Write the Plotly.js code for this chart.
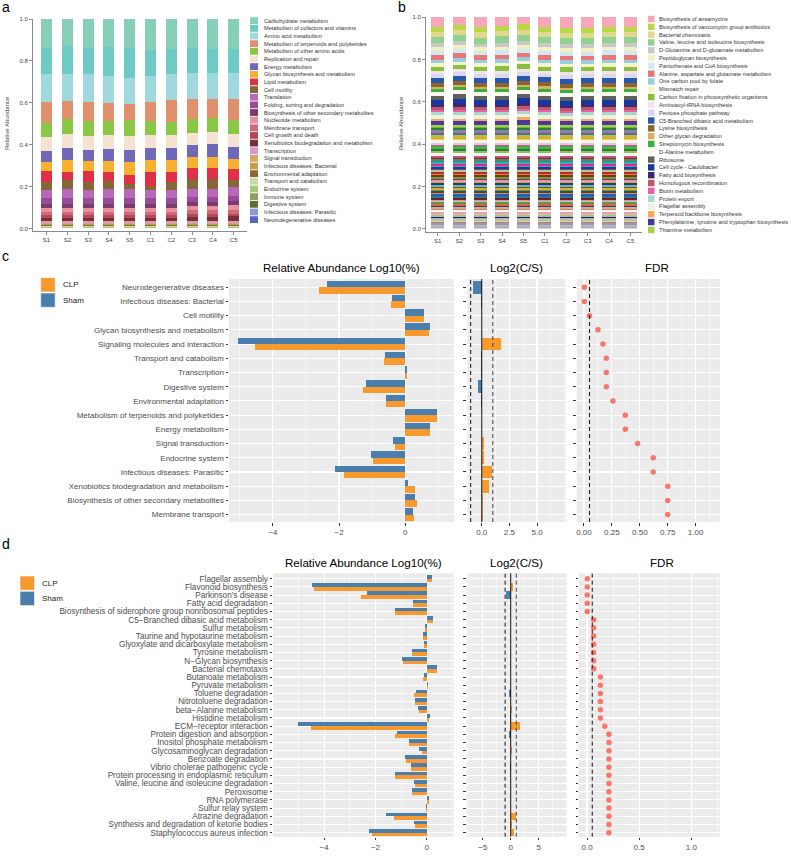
<!DOCTYPE html>
<html><head><meta charset="utf-8">
<script src="https://cdn.plot.ly/plotly-3.0.1.min.js"></script>
<style>html,body{margin:0;padding:0;background:#fff;}#chart{width:791px;height:857px;}</style>
</head><body><div id="chart"></div>
<script>
// ---------------- DATA ----------------
const samples = ['S1','S2','S3','S4','S5','C1','C2','C3','C4','C5'];

// Panel a: KEGG level 2 (top of stack first)
const aCategories = ['Carbohydrate metabolism','Metabolism of cofactors and vitamins','Amino acid metabolism','Metabolism of terpenoids and polyketides','Metabolism of other amino acids','Replication and repair','Energy metabolism','Glycan biosynthesis and metabolism','Lipid metabolism','Cell motility','Translation','Folding, sorting and degradation','Biosynthesis of other secondary metabolites','Nucleotide metabolism','Membrane transport','Cell growth and death','Xenobiotics biodegradation and metabolism','Transcription','Signal transduction','Infectious diseases: Bacterial','Environmental adaptation','Transport and catabolism','Endocrine system','Immune system','Digestive system','Infectious diseases: Parasitic','Neurodegenerative diseases'];
const aColors = ['#86d0b8','#6ecac4','#a0d8e0','#e0906c','#88c844','#f5e2d0','#7068b8','#f8b030','#e03048','#846838','#b868b8','#984c98','#783c70','#e8909c','#d06878','#b84858','#783038','#d898cc','#d8a860','#c0a048','#886838','#c8dca8','#a8c880','#88a060','#587038','#9098d8','#5868c0'];
const aS1 = [0.139,0.126,0.130,0.101,0.068,0.067,0.050,0.046,0.050,0.039,0.040,0.027,0.020,0.018,0.016,0.013,0.013,0.011,0.007,0.005,0.004,0.004,0.003,0.002,0.0008,0.0002,0.0001];
const aS2 = [0.130,0.135,0.126,0.086,0.073,0.065,0.059,0.055,0.040,0.044,0.043,0.027,0.020,0.018,0.016,0.013,0.013,0.011,0.007,0.005,0.004,0.004,0.003,0.002,0.0008,0.0002,0.0001];
const aS3 = [0.139,0.126,0.130,0.093,0.072,0.064,0.056,0.047,0.050,0.039,0.040,0.027,0.020,0.018,0.016,0.013,0.013,0.011,0.007,0.005,0.004,0.004,0.003,0.002,0.0008,0.0002,0.0001];
const aS4 = [0.135,0.139,0.125,0.088,0.066,0.067,0.057,0.052,0.044,0.040,0.043,0.027,0.020,0.018,0.016,0.013,0.013,0.011,0.007,0.005,0.004,0.004,0.003,0.002,0.0008,0.0002,0.0001];
const aS5 = [0.139,0.141,0.124,0.079,0.077,0.066,0.055,0.064,0.044,0.021,0.046,0.027,0.020,0.018,0.016,0.013,0.013,0.011,0.007,0.005,0.004,0.004,0.003,0.002,0.0008,0.0002,0.0001];
const aC1 = [0.150,0.124,0.121,0.092,0.066,0.062,0.057,0.060,0.065,0.022,0.037,0.027,0.020,0.018,0.016,0.013,0.013,0.011,0.007,0.005,0.004,0.004,0.003,0.002,0.0008,0.0002,0.0001];
const aC2 = [0.144,0.121,0.122,0.103,0.063,0.065,0.057,0.056,0.046,0.041,0.038,0.027,0.020,0.018,0.016,0.013,0.013,0.011,0.007,0.005,0.004,0.004,0.003,0.002,0.0008,0.0002,0.0001];
const aC3 = [0.139,0.119,0.126,0.095,0.065,0.060,0.057,0.049,0.055,0.048,0.037,0.024,0.019,0.020,0.019,0.013,0.018,0.011,0.007,0.005,0.004,0.004,0.003,0.002,0.0008,0.0002,0.0001];
const aC4 = [0.145,0.113,0.124,0.089,0.068,0.058,0.061,0.054,0.053,0.045,0.038,0.024,0.019,0.021,0.019,0.013,0.019,0.011,0.007,0.005,0.004,0.004,0.003,0.002,0.0008,0.0002,0.0001];
const aC5 = [0.144,0.114,0.124,0.100,0.068,0.060,0.057,0.051,0.051,0.034,0.042,0.025,0.018,0.022,0.020,0.013,0.020,0.011,0.007,0.005,0.004,0.004,0.003,0.002,0.0008,0.0002,0.0001];

// Panel b: KEGG level 3, legend categories (top of stack first)
const bCategories = ['Biosynthesis of ansamycins','Biosynthesis of vancomycin group antibiotics','Bacterial chemotaxis','Valine, leucine and isoleucine biosynthesis','D-Glutamine and D-glutamate metabolism','Peptidoglycan biosynthesis','Pantothenate and CoA biosynthesis','Alanine, aspartate and glutamate metabolism','One carbon pool by folate','Mismatch repair','Carbon fixation in photosynthetic organisms','Aminoacyl-tRNA biosynthesis','Pentose phosphate pathway','C5-Branched dibasic acid metabolism','Lysine biosynthesis','Other glycan degradation','Streptomycin biosynthesis','D-Alanine metabolism','Ribosome','Cell cycle - Caulobacter','Fatty acid biosynthesis','Homologous recombination','Biotin metabolism','Protein export','Flagellar assembly','Terpenoid backbone biosynthesis','Phenylalanine, tyrosine and tryptophan biosynthesis','Thiamine metabolism'];
const bColors = ['#f7a8b8','#b8d848','#e0d890','#90d090','#c8c8c8','#f0f0c0','#d0e8f0','#e87878','#98cce0','#f8f4c8','#88c040','#f8e0e8','#d8d8f0','#2858b0','#8b6430','#d8b060','#38b040','#f8f8e8','#606060','#1838a0','#402870','#c05868','#e860a8','#a8d8c8','#e8f4e0','#f8a860','#4838a0','#a8d040'];
const bS1 = [0.047,0.024,0.025,0.027,0.020,0.016,0.022,0.020,0.018,0.015,0.021,0.014,0.019,0.025,0.016,0.011,0.014,0.017,0.019,0.024,0.012,0.013,0.011,0.012,0.018,0.012,0.016,0.009];
const bS2 = [0.036,0.024,0.025,0.029,0.020,0.016,0.022,0.020,0.018,0.015,0.021,0.014,0.019,0.025,0.016,0.011,0.014,0.017,0.023,0.027,0.012,0.013,0.011,0.012,0.020,0.012,0.016,0.009];
const bS3 = [0.047,0.024,0.027,0.027,0.018,0.016,0.022,0.020,0.018,0.015,0.021,0.014,0.019,0.025,0.016,0.011,0.014,0.017,0.019,0.024,0.012,0.013,0.011,0.012,0.018,0.012,0.016,0.009];
const bS4 = [0.042,0.024,0.025,0.030,0.020,0.016,0.022,0.020,0.018,0.015,0.021,0.014,0.019,0.027,0.016,0.011,0.014,0.017,0.019,0.024,0.012,0.013,0.011,0.012,0.018,0.012,0.016,0.009];
const bS5 = [0.033,0.028,0.025,0.027,0.020,0.016,0.022,0.020,0.018,0.015,0.021,0.014,0.019,0.025,0.016,0.011,0.014,0.017,0.019,0.028,0.012,0.013,0.011,0.012,0.018,0.014,0.020,0.009];
const bC1 = [0.047,0.024,0.025,0.027,0.020,0.016,0.022,0.020,0.018,0.015,0.021,0.014,0.014,0.025,0.016,0.014,0.016,0.017,0.019,0.024,0.012,0.013,0.011,0.012,0.018,0.012,0.016,0.009];
const bC2 = [0.051,0.024,0.025,0.027,0.020,0.016,0.022,0.020,0.018,0.015,0.021,0.014,0.019,0.025,0.016,0.011,0.014,0.017,0.019,0.024,0.012,0.013,0.011,0.012,0.014,0.012,0.016,0.009];
const bC3 = [0.051,0.024,0.025,0.027,0.020,0.016,0.022,0.020,0.018,0.011,0.021,0.014,0.019,0.025,0.016,0.011,0.014,0.017,0.019,0.024,0.012,0.013,0.011,0.012,0.018,0.012,0.016,0.009];
const bC4 = [0.045,0.024,0.025,0.027,0.020,0.016,0.022,0.022,0.018,0.015,0.021,0.014,0.019,0.025,0.016,0.011,0.014,0.017,0.019,0.024,0.012,0.013,0.011,0.012,0.018,0.012,0.016,0.009];
const bC5 = [0.045,0.024,0.025,0.029,0.020,0.016,0.022,0.020,0.018,0.015,0.021,0.014,0.019,0.025,0.016,0.011,0.014,0.017,0.019,0.024,0.012,0.013,0.011,0.012,0.018,0.012,0.016,0.009];
// Panel b: remaining (unlabelled) pathways, same share in every sample (top of stack first)
const bOtherValues = [0.008,0.009,0.012,0.010,0.008,0.010,0.008,0.010,0.010,0.008,0.012,0.010,0.008,0.015,
  0.008,0.006,0.009,0.007,0.008,0.010,0.006,0.008,0.007,0.009,0.006,0.008,0.007,0.010,0.006,0.007,0.008,0.009,0.006,0.008,0.007,0.007,0.009,0.006,0.008,0.007,0.009,0.006,0.008,0.007,0.008,0.006,0.009,0.007,
  0.010,
  0.007,0.006,0.008,0.005,0.007,0.006,0.007,0.006,0.008,0.006,0.007,0.005];
const bOtherColors = ['#66bb44','#2f7f3a','#8a7fa8','#6d6190','#9ccc4c','#e8a830','#f5d040','#f2f2f2','#d4d4d4','#e23d94','#4cae4c','#2e7d32','#8fc35a','#f7f7f7',
  '#d0507a','#a01830','#3c9c50','#4878a8','#30b0b0','#e02890','#38a8e0','#283878','#7048a0','#a8d080','#c02838','#f08020','#604020','#909030','#405060','#f090b0','#98c848','#482870','#40c8d0','#8b4513','#d8b030','#808080','#1e5e30','#f08070','#3050c0','#208080','#702030','#b0a0d8','#f8b070','#50a050','#e06050','#303890','#c8b860','#d87090',
  '#f8f8f8',
  '#f0a0a0','#e8c060','#90c0e0','#402018','#c0a0d0','#a0d0a0','#f0d080','#d07080','#80a0c0','#e0b0c0','#b0b0b0','#c8d8e8'];

// Panel c
const cPathways = ['Neurodegenerative diseases','Infectious diseases: Bacterial','Cell motility','Glycan biosynthesis and metabolism','Signaling molecules and interaction','Transport and catabolism','Transcription','Digestive system','Environmental adaptation','Metabolism of terpenoids and polyketides','Energy metabolism','Signal transduction','Endocrine system','Infectious diseases: Parasitic','Xenobiotics biodegradation and metabolism','Biosynthesis of other secondary metabolites','Membrane transport'];
const cSham = [-2.37,-0.41,0.57,0.74,-5.06,-0.61,0.07,-1.19,-0.58,0.96,0.75,-0.37,-1.04,-2.13,0.08,0.31,0.25];
const cCLP  = [-2.62,-0.43,0.57,0.73,-4.54,-0.63,0.05,-1.28,-0.59,0.98,0.76,-0.31,-0.97,-1.86,0.29,0.36,0.28];
const cLog2 = [-0.82,-0.06,0.0,-0.02,1.72,-0.07,-0.06,-0.30,-0.03,0.06,0.03,0.19,0.20,0.92,0.70,0.12,0.10];
const cFDR  = [0.003,0.003,0.05,0.125,0.17,0.2,0.2,0.2,0.26,0.37,0.37,0.48,0.62,0.62,0.75,0.75,0.75];

// Panel d
const dPathways = ['Flagellar assembly','Flavonoid biosynthesis',"Parkinson's disease",'Fatty acid degradation','Biosynthesis of siderophore group nonribosomal peptides','C5\u2212Branched dibasic acid metabolism','Sulfur metabolism','Taurine and hypotaurine metabolism','Glyoxylate and dicarboxylate metabolism','Tyrosine metabolism','N\u2212Glycan biosynthesis','Bacterial chemotaxis','Butanoate metabolism','Pyruvate metabolism','Toluene degradation','Nitrotoluene degradation','beta\u2212Alanine metabolism','Histidine metabolism','ECM\u2212receptor interaction','Protein digestion and absorption','Inositol phosphate metabolism','Glycosaminoglycan degradation','Benzoate degradation','Vibrio cholerae pathogenic cycle','Protein processing in endoplasmic reticulum','Valine, leucine and isoleucine degradation','Peroxisome','RNA polymerase','Sulfur relay system','Atrazine degradation','Synthesis and degradation of ketone bodies','Staphylococcus aureus infection'];
const dSham = [0.2,-4.48,-2.34,-0.52,-1.24,0.25,-0.06,-0.13,-0.1,-0.56,-0.95,0.39,-0.12,0.06,-0.41,-0.46,-0.35,0.12,-5.02,-1.15,-0.68,-0.29,-0.85,-0.61,-1.24,-0.48,-0.56,0.09,-0.02,-1.57,-0.51,-2.27];
const dCLP  = [0.2,-4.38,-2.58,-0.52,-1.25,0.26,-0.07,-0.13,-0.1,-0.56,-0.93,0.39,-0.13,0.05,-0.5,-0.46,-0.3,0.1,-4.52,-1.23,-0.68,-0.2,-0.82,-0.63,-1.24,-0.47,-0.56,0.08,-0.02,-1.27,-0.44,-2.12];
const dLog2 = [0.02,0.33,-0.8,0.0,-0.03,0.03,-0.03,0.0,0.0,0.0,0.07,0.0,-0.03,-0.03,-0.3,0.0,0.17,-0.07,1.66,-0.27,0.0,0.3,0.1,-0.07,0.0,0.03,0.0,-0.03,0.0,1.0,0.23,0.5];
const dFDR  = [0.002,0.002,0.002,0.002,0.002,0.064,0.064,0.064,0.064,0.064,0.064,0.064,0.128,0.128,0.128,0.128,0.128,0.128,0.17,0.21,0.21,0.21,0.21,0.21,0.21,0.21,0.21,0.21,0.21,0.21,0.21,0.21];

const groups = ['CLP','Sham'];

// ---------------- STYLE / LAYOUT HELPERS ----------------
const W = 791, H = 857;
const FONT = 'Liberation Sans, Arial, Helvetica, sans-serif';
const CLP_COL = '#f7992f', SHAM_COL = '#4a7fad', FDR_COL = '#f8766d', PANEL_BG = '#ebebeb';
const xd = (l, r) => [l / W, r / W];
const yd = (t, b) => [1 - b / H, 1 - t / H];
const PX = p => p / W, PY = p => 1 - p / H;

const traces = [];
const shapes = [];
const annotations = [];

// ---- Panel a ----
const aBySample = [aS1,aS2,aS3,aS4,aS5,aC1,aC2,aC3,aC4,aC5];
for (let k = aCategories.length - 1; k >= 0; k--) {
  traces.push({type:'bar', x: samples, y: aBySample.map(s => s[k]), name: aCategories[k],
    marker:{color: aColors[k], line:{width:0}}, width:0.53, xaxis:'x', yaxis:'y', showlegend:false, hoverinfo:'skip'});
}
// ---- Panel b ----
const bBySample = [bS1,bS2,bS3,bS4,bS5,bC1,bC2,bC3,bC4,bC5];
for (let k = bOtherValues.length - 1; k >= 0; k--) {
  traces.push({type:'bar', x: samples, y: samples.map(() => bOtherValues[k]), name: 'other ' + (k+1),
    marker:{color: bOtherColors[k], line:{width:0}}, width:0.62, xaxis:'x2', yaxis:'y2', showlegend:false, hoverinfo:'skip'});
}
for (let k = bCategories.length - 1; k >= 0; k--) {
  traces.push({type:'bar', x: samples, y: bBySample.map(s => s[k]), name: bCategories[k],
    marker:{color: bColors[k], line:{width:0}}, width:0.62, xaxis:'x2', yaxis:'y2', showlegend:false, hoverinfo:'skip'});
}

// ---- Panels c & d ----
function comparisonPanel(names, sham, clp, log2, fdr, ax) {
  const rows = names.map((_, i) => i);
  traces.push({type:'bar', orientation:'h', x: sham, y: rows.map(i => i - 0.225), width:0.45, name:'Sham',
    marker:{color: SHAM_COL, line:{width:0}}, xaxis:'x'+ax[0], yaxis:'y'+ax[0], showlegend:false, hoverinfo:'skip'});
  traces.push({type:'bar', orientation:'h', x: clp, y: rows.map(i => i + 0.225), width:0.45, name:'CLP',
    marker:{color: CLP_COL, line:{width:0}}, xaxis:'x'+ax[0], yaxis:'y'+ax[0], showlegend:false, hoverinfo:'skip'});
  traces.push({type:'bar', orientation:'h', x: log2, y: rows, width:0.9, name:'Log2(C/S)',
    marker:{color: log2.map(v => v >= 0 ? CLP_COL : SHAM_COL), line:{width:0}}, xaxis:'x'+ax[1], yaxis:'y'+ax[1], showlegend:false, hoverinfo:'skip'});
  traces.push({type:'scatter', mode:'markers', x: fdr, y: rows, name:'FDR',
    marker:{color: FDR_COL, size:5.5}, xaxis:'x'+ax[2], yaxis:'y'+ax[2], showlegend:false, hoverinfo:'skip'});
}
comparisonPanel(cPathways, cSham, cCLP, cLog2, cFDR, [3,4,5]);
comparisonPanel(dPathways, dSham, dCLP, dLog2, dFDR, [6,7,8]);

// ---------------- AXES ----------------
const tickGray = {size:8, color:'#4d4d4d', family: FONT};
function stackX(domain, range, anchor) {
  return {domain, range, type:'category', anchor, showline:true, linecolor:'#8a8a8a', linewidth:1,
    ticks:'outside', ticklen:3, tickcolor:'#8a8a8a', tickfont:{size:6, color:'#444', family:FONT},
    showgrid:false, zeroline:false, fixedrange:true};
}
function stackY(domain, range, anchor) {
  return {domain, range, anchor, showline:true, linecolor:'#8a8a8a', linewidth:1,
    ticks:'outside', ticklen:3, tickcolor:'#8a8a8a', tickfont:{size:6, color:'#444', family:FONT},
    tickvals:[0,0.2,0.4,0.6,0.8,1.0], tickformat:'.1f', showgrid:false, zeroline:false, fixedrange:true};
}
function ggX(domain, range, anchor, tickvals, fmt, minorDt) {
  return {domain, range, anchor, tickvals, tickformat: fmt, showgrid:true, gridcolor:'#ffffff', gridwidth:1.1,
    minor:{tickvals: undefined, dtick: minorDt, tick0: 0, showgrid:true, gridcolor:'#ffffff', gridwidth:0.5},
    ticks:'outside', ticklen:2.5, tickcolor:'#333', tickwidth:1, tickfont: tickGray,
    zeroline:false, showline:false, fixedrange:true};
}
function ggY(domain, range, anchor, n, labels) {
  const o = {domain, range, anchor, tickvals: Array.from({length:n}, (_, i) => i), showgrid:true,
    gridcolor:'#ffffff', gridwidth:1.1, ticks:'outside', ticklen:2.5, tickcolor:'#333', tickwidth:1,
    zeroline:false, showline:false, fixedrange:true};
  if (labels) { o.ticktext = labels; o.tickfont = labels.length > 20 ? {size:8.2, color:'#4d4d4d', family:FONT} : tickGray; }
  else { o.showticklabels = false; }
  return o;
}

const cTop = 279, cBot = 522, dTop = 573.3, dBot = 836.7;
const cRange = [16.52, -0.58], dRange = [31.49, -0.66];

const layout = {
  width: W, height: H, margin:{l:0, r:0, t:0, b:0}, paper_bgcolor:'#ffffff', plot_bgcolor:'#ffffff',
  barmode:'stack', bargap:0, showlegend:false, font:{family: FONT},
  xaxis:  stackX(xd(33,247), [-0.65,9.64], 'y'),
  yaxis:  stackY(yd(19,230.5), [-0.01,1], 'x'),
  xaxis2: stackX(xd(426,642), [-0.55,9.54], 'y2'),
  yaxis2: stackY(yd(17,232), [-0.0142,1], 'x2'),
  xaxis3: ggX(xd(229,454), [-5.33,1.48], 'y3', [-4,-2,0], '', 1),
  yaxis3: ggY(yd(cTop,cBot), cRange, 'x3', cPathways.length, cPathways),
  xaxis4: ggX(xd(466.7,565.7), [-1.36,7.59], 'y4', [0,2.5,5], '.1f', 1.25),
  yaxis4: ggY(yd(cTop,cBot), cRange, 'x4', cPathways.length, null),
  xaxis5: ggX(xd(576.7,720), [-0.065,1.218], 'y5', [0,0.25,0.5,0.75,1], '.2f', 0.125),
  yaxis5: ggY(yd(cTop,cBot), cRange, 'x5', cPathways.length, null),
  xaxis6: ggX(xd(273,454), [-5.99,1.06], 'y6', [-6,-4,-2,0], '', 1),
  yaxis6: ggY(yd(dTop,dBot), dRange, 'x6', dPathways.length, dPathways),
  xaxis7: ggX(xd(466.7,566.7), [-7.86,10], 'y7', [-5,0,5], '', 2.5),
  yaxis7: ggY(yd(dTop,dBot), dRange, 'x7', dPathways.length, null),
  xaxis8: ggX(xd(579,720), [-0.077,1.275], 'y8', [0,0.5,1], '.1f', 0.25),
  yaxis8: ggY(yd(dTop,dBot), dRange, 'x8', dPathways.length, null),
  shapes, annotations
};

// gray ggplot panels
[3,4,5,6,7,8].forEach(n => {
  shapes.push({type:'rect', xref:'x'+n+' domain', yref:'y'+n+' domain', x0:0, x1:1, y0:0, y1:1,
    fillcolor: PANEL_BG, line:{width:0}, layer:'below'});
});
// reference lines
function vline(ax, x, color, dash) {
  shapes.push({type:'line', xref:'x'+ax, yref:'y'+ax+' domain', x0:x, x1:x, y0:0, y1:1,
    line:{color, width:1, dash}, layer:'above'});
}
[[4],[7]].forEach(([ax]) => { vline(ax, -1, '#111', '4px,3px'); vline(ax, 0, '#111', 'solid'); vline(ax, 1, '#444', '4px,3px'); });
vline(5, 0.05, '#111', '4px,3px');
vline(8, 0.05, '#111', '4px,3px');

// ---------------- TEXT ----------------
function txt(text, x, y, size, opts) {
  annotations.push(Object.assign({text, x: PX(x), y: PY(y), xref:'paper', yref:'paper', showarrow:false,
    font:{size, color:'#000', family:FONT}, xanchor:'center', yanchor:'middle'}, opts || {}));
}
// panel letters
txt('a', 0, 7, 14, {xanchor:'left'});
txt('b', 396, 7, 14, {xanchor:'left'});
txt('c', 0, 256, 14, {xanchor:'left'});
txt('d', 0, 544, 14, {xanchor:'left'});
// axis titles a, b
txt('Relative Abundance', 7, 123, 6, {textangle:-90, font:{size:6, color:'#444', family:FONT}});
txt('Relative Abundance', 401, 123, 6, {textangle:-90, font:{size:6, color:'#444', family:FONT}});
// panel titles c, d
txt('Relative Abundance Log10(%)', 341.5, 267, 11.6);
txt('Log2(C/S)', 516, 267, 11.6);
txt('FDR', 657, 267, 11.6);
txt('Relative Abundance Log10(%)', 363.5, 562, 11.6);
txt('Log2(C/S)', 516.7, 562, 11.6);
txt('FDR', 661.7, 562, 11.6);

// legend a
aCategories.forEach((name, k) => {
  const cy = 20.7 + k * 7.65;
  shapes.push({type:'rect', xref:'paper', yref:'paper', x0:PX(250), x1:PX(258), y0:PY(cy+3.4), y1:PY(cy-3.4),
    fillcolor: aColors[k], line:{width:0}});
  txt(name, 261.5, cy, 5.6, {xanchor:'left', font:{size:5.6, color:'#333', family:FONT}});
});
// legend b
bCategories.forEach((name, k) => {
  const cy = 19 + k * 7.81;
  shapes.push({type:'rect', xref:'paper', yref:'paper', x0:PX(648), x1:PX(654.5), y0:PY(cy+3.2), y1:PY(cy-3.2),
    fillcolor: bColors[k], line:{width:0}});
  txt(name, 657, cy, 5.6, {xanchor:'left', font:{size:5.6, color:'#333', family:FONT}});
});
// legends c, d
function groupLegend(x, y) {
  groups.forEach((g, i) => {
    const top = y + i * 15.3;
    shapes.push({type:'rect', xref:'paper', yref:'paper', x0:PX(x), x1:PX(x+14.5), y0:PY(top+14.3), y1:PY(top),
      fillcolor: g === 'CLP' ? CLP_COL : SHAM_COL, line:{color:'#ffffff', width:0.6}});
    txt(g, x + 20, top + 7.3, 8, {xanchor:'left', font:{size:8, color:'#222', family:FONT}});
  });
}
groupLegend(40.7, 277.7);
groupLegend(20, 576);

Plotly.newPlot('chart', traces, layout, {staticPlot:true, displayModeBar:false});
</script></body></html>
